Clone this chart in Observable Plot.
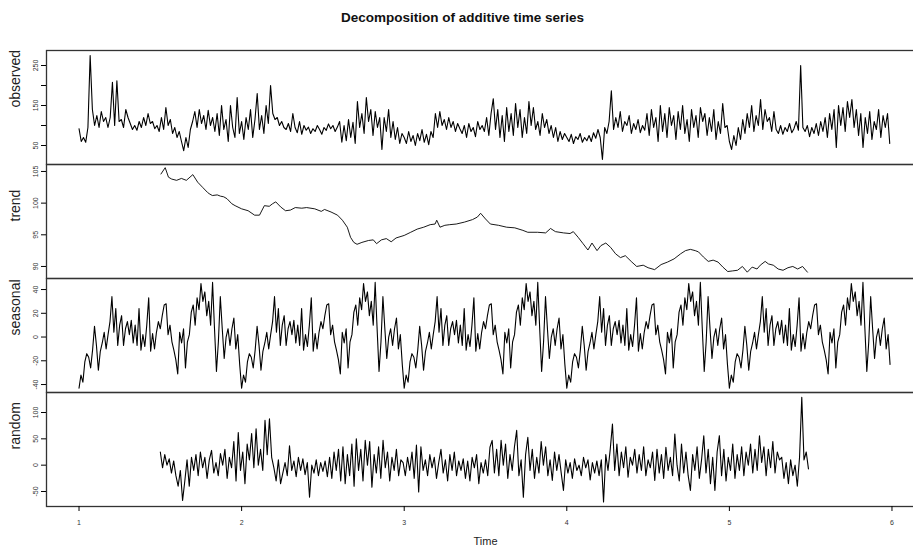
<!DOCTYPE html>
<html><head><meta charset="utf-8">
<script src="https://cdn.jsdelivr.net/npm/d3@7"></script>
<script src="https://cdn.jsdelivr.net/npm/@observablehq/plot@0.6"></script>
<style>
html,body{margin:0;padding:0;background:#fff;}
#chart{position:relative;width:913px;height:549px;overflow:hidden;font-family:"Liberation Sans",Arial,sans-serif;background:#fff;}
#title{position:absolute;left:0;width:925px;top:10px;text-align:center;font-weight:bold;font-size:13.5px;color:#111;}
</style></head><body>
<div id="chart"><div id="title">Decomposition of additive time series</div></div>
<script>
// ---- data ----
const observedStart = 1, observedFreq = 73;
const observed = [
92,60,70,58,95,275,140,100,125,95,135,110,120,95,120,208,100,212,110,115,95,140,120,105,90,100,88,110,95,120,100,130,105,110,92,100,85,120,90,145,100,115,80,95,70,85,60,37,70,45,90,110,135,95,140,105,125,90,138,100,120,85,130,75,150,90,115,60,150,95,70,170,80,
110,65,120,90,140,70,115,180,90,125,80,150,105,200,130,115,120,100,110,95,90,105,85,130,95,82,110,78,100,88,96,80,92,85,100,90,78,95,88,104,92,100,85,96,110,58,100,62,115,70,108,55,160,95,130,80,170,110,140,75,135,95,120,40,120,85,140,70,110,65,95,55,80,
70,55,85,60,75,50,80,62,90,58,78,52,85,70,130,95,135,100,115,90,120,95,110,85,105,92,80,100,70,105,85,95,72,110,90,100,85,120,75,130,167,90,140,70,125,60,145,85,130,75,155,95,140,70,120,80,160,100,145,90,110,75,130,95,115,80,100,70,95,60,85,65,80,
70,60,78,55,72,65,80,58,70,62,75,60,82,68,90,70,15,95,80,110,187,90,120,95,135,85,110,100,125,80,105,90,115,82,100,88,130,75,140,95,120,60,150,85,130,70,145,100,125,65,135,90,150,80,115,60,140,95,125,70,145,110,130,75,120,85,140,65,110,80,155,95,100,
60,40,75,50,95,65,115,80,130,95,150,85,125,100,165,90,140,110,120,85,135,90,80,100,78,95,85,105,82,92,110,88,250,95,85,100,72,95,80,105,75,110,85,120,70,130,90,140,45,150,100,145,85,160,120,165,95,140,75,130,45,120,80,135,65,110,90,140,70,125,95,130,55
];

const trend = [
[1.504,104.6],[1.53,105.6],[1.55,104.1],[1.57,103.8],[1.60,103.6],[1.63,103.9],[1.66,103.6],[1.70,104.5],[1.73,103.3],[1.76,102.5],
[1.79,101.7],[1.80,101.5],[1.82,101.2],[1.85,101.3],[1.87,101.1],[1.89,101.0],[1.91,100.7],[1.94,99.9],[1.96,99.6],[2.00,99.1],
[2.04,98.8],[2.08,98.1],[2.11,98.1],[2.14,99.6],[2.17,99.5],[2.19,99.9],[2.21,100.2],[2.24,99.4],[2.27,98.8],[2.30,98.9],
[2.33,99.3],[2.37,99.2],[2.40,99.3],[2.45,99.1],[2.49,98.7],[2.51,99.0],[2.55,98.6],[2.59,98.1],[2.62,97.3],[2.65,96.2],
[2.67,94.6],[2.69,93.8],[2.71,93.5],[2.74,93.8],[2.78,94.1],[2.81,94.2],[2.83,93.6],[2.86,94.2],[2.89,94.4],[2.92,93.9],
[2.95,94.5],[3.00,94.9],[3.04,95.4],[3.08,95.9],[3.12,96.2],[3.16,96.6],[3.19,96.7],[3.20,97.3],[3.22,96.2],[3.25,96.5],
[3.28,96.6],[3.32,96.7],[3.37,97.0],[3.42,97.4],[3.45,97.8],[3.47,98.4],[3.50,97.5],[3.53,96.7],[3.58,96.5],[3.63,96.2],
[3.68,96.1],[3.73,95.7],[3.76,95.4],[3.82,95.4],[3.87,95.3],[3.90,96.0],[3.93,95.5],[3.98,95.3],[4.02,95.2],[4.04,95.5],
[4.07,94.6],[4.10,93.6],[4.13,92.6],[4.155,93.7],[4.186,92.5],[4.21,93.3],[4.24,93.7],[4.27,93.0],[4.30,92.0],[4.33,91.4],
[4.36,91.7],[4.40,90.7],[4.43,90.0],[4.47,90.2],[4.50,89.8],[4.54,89.5],[4.58,90.3],[4.62,90.7],[4.66,91.2],[4.70,92.0],
[4.73,92.5],[4.76,92.7],[4.79,92.5],[4.81,92.3],[4.84,91.5],[4.87,90.8],[4.90,91.0],[4.93,90.7],[4.96,89.9],[4.99,89.2],
[5.02,89.3],[5.05,89.4],[5.08,90.0],[5.11,89.1],[5.14,89.9],[5.17,89.6],[5.19,90.2],[5.22,90.8],[5.24,90.4],[5.27,90.2],
[5.30,89.6],[5.33,89.4],[5.36,89.8],[5.39,90.0],[5.42,89.6],[5.45,90.0],[5.48,89.1]
];

// one period of the seasonal component (it repeats every year)
const seasonalPattern = [
-43,-32,-38,-21,-14,-17,-26,-11,9,-7,
-28,-12,-5,4,-10,2,13,34,4,24,
-7,10,18,-7,7,13,2,14,-5,10,
-7,24,-11,2,-8,10,33,-12,3,-10,
4,13,7,18,27,28,2,10,-4,-11,
-19,-31,4,-5,7,-26,-4,2,21,27,
10,33,23,45,30,38,18,30,10,46,
7,-29,-4,34,7,-18,0,7,-7,7,
16,-10,2,-23
];
const seasonalYears = [1, 2, 3, 4, 5];

const randomStart = 1.5, randomFreq = 73;
const random = [
25,-5,20,0,12,-15,8,-20,-40,-10,-67,-30,10,-40,15,
-10,20,-20,25,-5,15,-25,10,28,-15,5,-20,22,0,30,-25,15,-5,
45,-30,62,-10,25,-35,40,10,60,-5,69,0,30,-10,85,20,88,15,
-5,-30,10,-35,-15,5,-20,37,-10,8,-22,15,-10,12,-18,5,-61,
0,-15,10,-20,5,-12,8,-22,15,-25,25,-10,30,-30,35,-35,20,-20,40,-40,50,
-10,30,-30,47,0,45,-42,20,-15,35,-25,47,-5,25,-30,15,-10,30,-20,10,
5,-20,15,-10,25,-25,38,-51,35,-10,
10,-20,20,-5,15,-25,5,30,-15,10,-30,20,-10,25,-20,8,
-10,12,-25,8,-30,15,-5,20,-35,5,-15,10,-20,34,
47,-15,30,-20,47,0,40,-25,20,-10,35,66,-20,10,-61,
20,53,-10,30,-25,15,-15,45,0,35,-20,10,-29,25,-10,20,-15,-48,
10,-15,5,-25,12,-10,0,-20,15,-5,10,-28,5,-15,8,-20,10,-70,20,-10,30,78,
-10,40,-20,25,-5,35,-23,15,0,30,-15,20,-10,35,-20,10,-5,
25,-29,30,-15,20,-25,34,-10,15,-20,59,0,
-30,40,-15,25,-20,-48,20,-10,35,-25,10,56,-15,30,-35,15,-48,25,56,-20,30,-30,15,-10,40,-25,
20,-10,35,-20,25,0,40,-15,30,-10,56,5,35,-20,30,-5,45,-15,25,10,
15,-25,5,-35,10,-20,0,-40,15,129,10,25,-7
];

const timeTicks = [1, 2, 3, 4, 5, 6];
const observedTicks = [50, 100, 150, 200, 250], observedLabels = [50, 150, 250];
const trendTicks = [90, 95, 100, 105];
const seasonalTicks = [-40, -20, 0, 20, 40];
const randomTicks = [-50, 0, 50, 100];

// ---- tables ----
const obsData = observed.map((v, i) => ({t: observedStart + i / observedFreq, v}));
const trendData = trend.map(([t, v]) => ({t, v}));
const seasData = seasonalYears.flatMap(y => seasonalPattern.map((v, k) => ({t: y + k / seasonalPattern.length, v})));
const randData = random.map((v, i) => ({t: randomStart + i / randomFreq, v}));

const chart = document.getElementById("chart");
const FONT = "Liberation Sans, Arial, sans-serif";

function panel({data, top, height, marginBottom = 1, domain, ticks, labels = ticks, title, xAxis = false, lineWidth = 1}) {
  const marks = [
    Plot.frame({stroke: "#333", strokeWidth: 1.3}),
    Plot.line(data, {x: "t", y: "v", stroke: "#000", strokeWidth: lineWidth}),
    Plot.axisY(ticks, {anchor: "left", tickSize: 5, tickRotate: -90, tickPadding: 4, fontSize: 7, fill: "#333",
      tickFormat: d => labels.includes(d) ? String(d) : "", label: null}),
    Plot.text([title], {frameAnchor: "left", dx: -31, rotate: -90, fontSize: 14, fill: "#222"})
  ];
  if (xAxis) {
    marks.push(Plot.axisX(timeTicks, {anchor: "bottom", tickSize: 5, tickPadding: 9, fontSize: 7, fill: "#333",
      tickFormat: d => String(d), label: null}));
    marks.push(Plot.text(["Time"], {frameAnchor: "bottom", dy: 38, fontSize: 11, fill: "#222"}));
  }
  const svg = Plot.plot({
    width: 925, height, marginLeft: 46, marginRight: 1, marginTop: 1, marginBottom,
    x: {domain: [0.8, 6.2], axis: null},
    y: {domain, axis: null},
    style: {maxWidth: "none", overflow: "visible", background: "transparent", fontFamily: FONT},
    marks
  });
  svg.style.position = "absolute";
  svg.style.left = "0px";
  svg.style.top = top + "px";
  chart.appendChild(svg);
}

panel({data: obsData, top: 49, height: 116, domain: [2.5, 287.5], ticks: observedTicks, labels: observedLabels, title: "observed", lineWidth: 1.1});
panel({data: trendData, top: 163, height: 116, domain: [88.1, 106.1], ticks: trendTicks, title: "trend", lineWidth: 0.9});
panel({data: seasData, top: 277, height: 116, domain: [-46.7, 49.3], ticks: seasonalTicks, title: "seasonal", lineWidth: 1.1});
panel({data: randData, top: 391, height: 158, marginBottom: 43, domain: [-78.5, 138], ticks: randomTicks, title: "random", xAxis: true, lineWidth: 1.1});
</script>
</body></html>
